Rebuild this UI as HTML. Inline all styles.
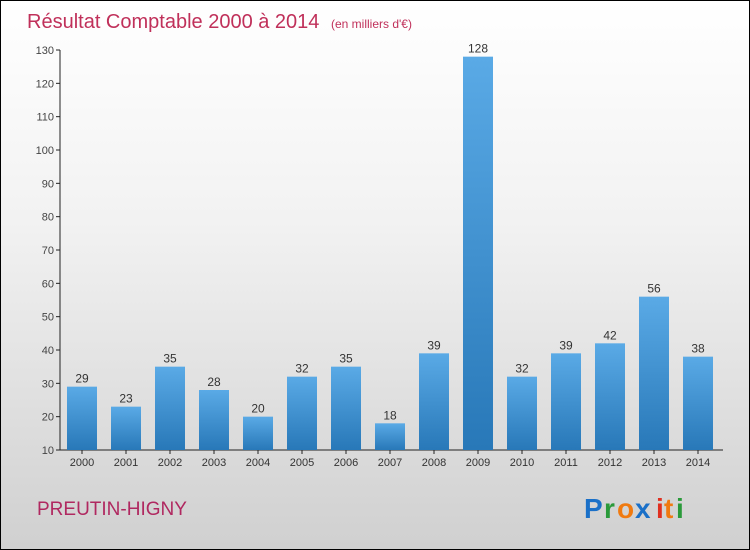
<!DOCTYPE html>
<html><head><meta charset="utf-8"><style>
body{margin:0;}
#wrap{position:relative;width:748px;height:548px;border:1px solid #000;background:linear-gradient(#ffffff 0%,#f2f2f2 40%,#d0d0d0 100%);overflow:hidden;font-family:"Liberation Sans",sans-serif;}
</style></head><body>
<div id="wrap">
<svg id="svg" width="748" height="548">
<defs><linearGradient id="bg" x1="0" y1="0" x2="0" y2="1"><stop offset="0" stop-color="#5aaae6"/><stop offset="1" stop-color="#2878b8"/></linearGradient></defs>
<text x="26" y="27" font-size="20" fill="#c0305a">Résultat Comptable 2000 à 2014 <tspan font-size="12" dx="6">(en milliers d'€)</tspan></text>
<text x="36" y="514" font-size="19" fill="#b02860">PREUTIN-HIGNY</text>
<g font-size="28" font-weight="bold">
<text x="583" y="517" fill="#1a70c8">P</text><text x="603" y="517" fill="#2a9a3a">r</text><text x="616" y="517" fill="#f07a10">o</text><text x="634" y="517" fill="#1a70c8">x</text><text x="655" y="517" fill="#e03020">i</text><text x="663" y="517" fill="#f07a10">t</text><text x="675" y="517" fill="#2a9a3a">i</text>
</g>
<g id="axes"></g><g id="bars"></g>
</svg>
</div>
<script>
const categories=["2000","2001","2002","2003","2004","2005","2006","2007","2008","2009","2010","2011","2012","2013","2014"];
const values=[29,23,35,28,20,32,35,18,39,128,32,39,42,56,38];
const yTicks=[10,20,30,40,50,60,70,80,90,100,110,120,130];
const NS="http://www.w3.org/2000/svg";
const y0=449,y1=49,vmin=10,vmax=130;
function yScale(v){return y0-(v-vmin)/(vmax-vmin)*(y0-y1);}
function xScale(i){return 81+i*44;}
function mk(t,a,p){const e=document.createElementNS(NS,t);for(const k in a)e.setAttribute(k,a[k]);p.appendChild(e);return e;}
const ax=document.getElementById('axes'),bg=document.getElementById('bars');
const yl=mk('line',{x1:59,y1:y1,x2:59,y2:y0,stroke:'#222'},ax);


const xl=mk('line',{x1:59,y1:y0,x2:722,y2:y0,stroke:'#222'},ax);


yTicks.forEach(v=>{const y=yScale(v);
mk('line',{x1:55,y1:y,x2:59,y2:y,stroke:'#222'},ax);
const t=mk('text',{x:53,y:y+4,'text-anchor':'end','font-size':11,fill:'#444'},ax);t.textContent=v;

});
categories.forEach((c,i)=>{const x=xScale(i),v=values[i],y=yScale(v);
const r=mk('rect',{x:x-15,y:y,width:30,height:y0-y,fill:'url(#bg)'},bg);


mk('line',{x1:x,y1:y0,x2:x,y2:y0+4,stroke:'#222'},ax);
const t=mk('text',{x:x,y:y0+16,'text-anchor':'middle','font-size':11,fill:'#333'},ax);t.textContent=c;


const l=mk('text',{x:x,y:y-4,'text-anchor':'middle','font-size':12,fill:'#333'},bg);l.textContent=v;

});
</script>
</body></html>
